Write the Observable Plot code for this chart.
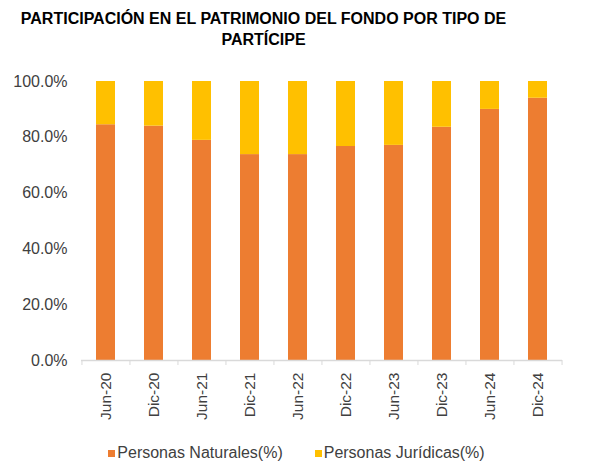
<!DOCTYPE html>
<html><head><meta charset="utf-8">
<script src="https://cdn.jsdelivr.net/npm/d3@7"></script>
<script src="https://cdn.jsdelivr.net/npm/@observablehq/plot@0.6"></script>
<style>
body{margin:0;background:#fff;font-family:"Liberation Sans",Arial,sans-serif;width:593px;}
#title{height:50px;box-sizing:border-box;padding-top:7.5px;width:527px;text-align:center;font-weight:bold;font-size:16px;line-height:21px;color:#000;}
#chart svg{display:block;}
#legend{display:flex;justify-content:center;align-items:center;gap:32px;padding-top:9px;font-size:16px;line-height:18px;color:#404040;}
#legend .item{display:flex;align-items:center;}
#legend .sw{width:7px;height:7px;margin-right:2px;}
</style></head><body>
<div id="title">PARTICIPACIÓN EN EL PATRIMONIO DEL FONDO POR TIPO DE<br>PARTÍCIPE</div>
<div id="chart"></div>
<div id="legend"></div>
<script>
const periodos = ["Jun-20","Dic-20","Jun-21","Dic-21","Jun-22","Dic-22","Jun-23","Dic-23","Jun-24","Dic-24"];
const naturales = [84.5, 84.0, 78.9, 73.8, 73.8, 76.7, 77.1, 83.6, 90.0, 94.0];
const juridicas = [15.5, 16.0, 21.1, 26.2, 26.2, 23.3, 22.9, 16.4, 10.0, 6.0];
const series = ["Personas Naturales(%)", "Personas Jurídicas(%)"];
const colores = ["#ED7D31", "#FFC000"];
const yTicks = [0, 20, 40, 60, 80, 100];

const rows = [];
periodos.forEach((p, i) => {
  rows.push({periodo: p, tipo: series[0], valor: naturales[i]});
  rows.push({periodo: p, tipo: series[1], valor: juridicas[i]});
});

const width = 593, marginLeft = 81, marginRight = 31;
const step = (width - marginLeft - marginRight) / periodos.length;

const chart = Plot.plot({
  width, height: 385, marginTop: 31, marginBottom: 75, marginLeft, marginRight,
  style: {fontFamily: "Liberation Sans, Arial, sans-serif", fontSize: "16px", color: "#404040", background: "#fff"},
  x: {domain: periodos, paddingInner: 0.6, paddingOuter: 0.3, label: null},
  y: {domain: [0, 100], label: null},
  color: {domain: series, range: colores},
  marks: [
    Plot.barY(rows, {x: "periodo", y: "valor", fill: "tipo", order: series}),
    Plot.ruleY([0], {stroke: "#d9d9d9", strokeWidth: 1.5}),
    Plot.axisY({ticks: yTicks, tickFormat: d => d.toFixed(1) + "%", tickSize: 0, tickPadding: 14, label: null}),
    Plot.axisX({tickSize: 0, tickPadding: 12, tickRotate: -90, fontSize: 15.5, label: null}),
    Plot.axisX({tickSize: 5, tickFormat: () => "", dx: -step / 2, stroke: "#d9d9d9", label: null}),
    Plot.axisX([periodos[periodos.length - 1]], {tickSize: 5, tickFormat: () => "", dx: step / 2, stroke: "#d9d9d9", label: null})
  ]
});
document.getElementById("chart").append(chart);

const legend = document.getElementById("legend");
series.forEach((s, i) => {
  const item = document.createElement("div");
  item.className = "item";
  const sw = document.createElement("span");
  sw.className = "sw";
  sw.style.background = colores[i];
  const t = document.createElement("span");
  t.textContent = s;
  item.append(sw, t);
  legend.append(item);
});
</script>
</body></html>
